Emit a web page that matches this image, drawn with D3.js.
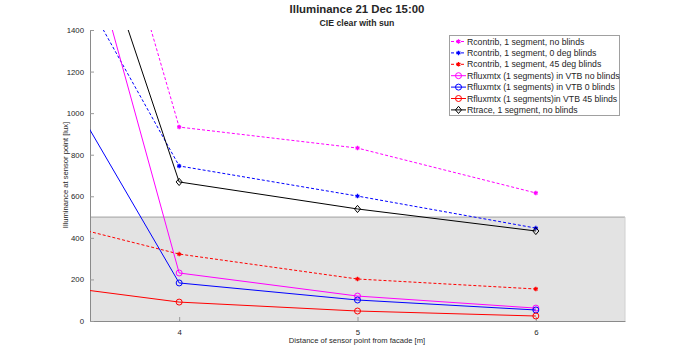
<!DOCTYPE html>
<html>
<head>
<meta charset="utf-8">
<script src="https://cdn.jsdelivr.net/npm/d3@7"></script>
<style>
  body { margin: 0; background: #fff; }
  svg text { font-family: "Liberation Sans", Arial, sans-serif; fill: #262626; }
</style>
</head>
<body>
<svg id="chart" width="690" height="361"></svg>
<script>
// distances from facade [m] (x=3 lies outside the visible axis, lines run off the left)
let distances = [3, 4, 5, 6]

let series_names = [
  "Rcontrib, 1 segment, no blinds",
  "Rcontrib, 1 segment, 0 deg blinds",
  "Rcontrib, 1 segment, 45 deg blinds",
  "Rfluxmtx (1 segments) in VTB no blinds",
  "Rfluxmtx (1 segments) in VTB 0 blinds",
  "Rfluxmtx (1 segments)in VTB 45 blinds",
  "Rtrace, 1 segment, no blinds"
]
let rcontrib_none = [3900, 933, 832, 616]
let rcontrib_0 = [2285, 746, 601, 447]
let rcontrib_45 = [538, 322, 202, 154]
let rfluxmtx_none = [3350, 231, 120, 62]
let rfluxmtx_0 = [1655, 183, 101, 53]
let rfluxmtx_45 = [202, 91, 48, 24]
let rtrace_none = [3227, 669, 539, 433]

let x_ticks = [4, 5, 6]
let y_ticks = [0, 200, 400, 600, 800, 1000, 1200, 1400]
let threshold = 500

let width = 690,
    height = 361,
    margins = {left: 90, right: 65, top: 30, bottom: 40};

let styles = [
  {color: "#ff00ff", dash: "3,2", marker: "star"},
  {color: "#0000ff", dash: "3,2", marker: "star"},
  {color: "#ff0000", dash: "3,2", marker: "star"},
  {color: "#ff00ff", dash: null, marker: "circle"},
  {color: "#0000ff", dash: null, marker: "circle"},
  {color: "#ff0000", dash: null, marker: "circle"},
  {color: "#000000", dash: null, marker: "diamond"}
]
let values = [rcontrib_none, rcontrib_0, rcontrib_45, rfluxmtx_none, rfluxmtx_0, rfluxmtx_45, rtrace_none]

let series = series_names.map((name, i) => ({
  name: name,
  style: styles[i],
  points: distances.map((d, j) => ({x: d, y: values[i][j]}))
}))

let scales = {
  x: d3.scaleLinear().domain([3.5, 6.5]).range([margins.left, width - margins.right]),
  y: d3.scaleLinear().domain([0, 1400]).range([height - margins.bottom, margins.top])
}

let svg = d3.select("#chart")

svg.append("defs").append("clipPath").attr("id", "plot_clip")
  .append("rect")
  .attr("x", margins.left)
  .attr("y", margins.top)
  .attr("width", width - margins.left - margins.right)
  .attr("height", height - margins.top - margins.bottom)

// grey band below the 500 lux target
svg.append("rect")
  .attr("x", scales.x(3.5))
  .attr("y", scales.y(threshold))
  .attr("width", scales.x(6.5) - scales.x(3.5))
  .attr("height", scales.y(0) - scales.y(threshold))
  .attr("fill", "#e3e3e3")
svg.append("line")
  .attr("x1", scales.x(3.5)).attr("x2", scales.x(6.5))
  .attr("y1", scales.y(threshold)).attr("y2", scales.y(threshold))
  .attr("stroke", "#a0a0a0")
svg.append("line")
  .attr("x1", scales.x(6.5)).attr("x2", scales.x(6.5))
  .attr("y1", scales.y(threshold)).attr("y2", scales.y(0))
  .attr("stroke", "#d0d0d0")

// axes
let x_axis = d3.axisBottom(scales.x).tickValues(x_ticks).tickFormat(d3.format("d"))
  .tickSizeInner(-4).tickSizeOuter(0).tickPadding(8)
let y_axis = d3.axisLeft(scales.y).tickValues(y_ticks).tickFormat(d3.format("d"))
  .tickSizeInner(-4).tickSizeOuter(0).tickPadding(6)

let gx = svg.append("g")
  .attr("transform", `translate(0, ${height - margins.bottom})`)
  .call(x_axis)
let gy = svg.append("g")
  .attr("transform", `translate(${margins.left}, 0)`)
  .call(y_axis)

for (let g of [gx, gy]) {
  g.select(".domain").attr("stroke", "#8a8a8a")
  g.selectAll(".tick line").attr("stroke", "#9a9a9a")
  g.selectAll(".tick text")
    .attr("font-size", "7.8px")
    .attr("font-family", "Liberation Sans, Arial, sans-serif")
    .attr("fill", "#262626")
}

svg.append("text")
  .text("Distance of sensor point from facade [m]")
  .attr("x", 357).attr("y", 343)
  .attr("text-anchor", "middle")
  .attr("font-size", "7.6px")
svg.append("text")
  .text("Illuminance at sensor point [lux]")
  .attr("transform", `translate(68, 175)rotate(-90)`)
  .attr("text-anchor", "middle")
  .attr("font-size", "7.6px")

svg.append("text")
  .text("Illuminance 21 Dec 15:00")
  .attr("x", 357).attr("y", 12.5)
  .attr("text-anchor", "middle")
  .attr("font-weight", "bold")
  .attr("font-size", "11.4px")
  .attr("fill", "#000")
svg.append("text")
  .text("CIE clear with sun")
  .attr("x", 357).attr("y", 26)
  .attr("text-anchor", "middle")
  .attr("font-weight", "bold")
  .attr("font-size", "8.7px")
  .attr("fill", "#000")

// lines and markers
let path_generator = d3.line()
  .x(d => scales.x(d.x))
  .y(d => scales.y(d.y))

let plot = svg.append("g").attr("clip-path", "url(#plot_clip)")

function draw_marker(g, style, cx, cy) {
  if (style.marker == "circle") {
    g.append("circle").attr("cx", cx).attr("cy", cy).attr("r", 3)
      .attr("fill", "none").attr("stroke", style.color).attr("stroke-width", 1)
  } else if (style.marker == "diamond") {
    g.append("path")
      .attr("d", `M${cx},${cy - 3.6}L${cx + 3},${cy}L${cx},${cy + 3.6}L${cx - 3},${cy}Z`)
      .attr("fill", "none").attr("stroke", style.color).attr("stroke-width", 1)
  } else {
    g.append("path")
      .attr("transform", `translate(${cx},${cy})`)
      .attr("d", d3.symbol(d3.symbolAsterisk, 14)())
      .attr("fill", "none").attr("stroke", style.color).attr("stroke-width", 1.3)
  }
}

series.forEach(s => {
  plot.append("path")
    .datum(s.points)
    .attr("d", path_generator)
    .attr("fill", "none")
    .attr("stroke", s.style.color)
    .attr("stroke-width", 1)
    .attr("stroke-dasharray", s.style.dash)
  s.points.filter(p => p.x >= 4).forEach(p => {
    draw_marker(plot, s.style, scales.x(p.x), scales.y(p.y))
  })
})

// legend
let legend = svg.append("g")
legend.append("rect")
  .attr("x", 449.5).attr("y", 35.5)
  .attr("width", 170).attr("height", 80)
  .attr("fill", "#fff")
  .attr("stroke", "#a0a0a0")
series.forEach((s, i) => {
  let ly = 41.5 + i * 11.4
  legend.append("line")
    .attr("x1", 451).attr("x2", 466)
    .attr("y1", ly).attr("y2", ly)
    .attr("stroke", s.style.color)
    .attr("stroke-dasharray", s.style.dash)
  draw_marker(legend, s.style, 458.5, ly)
  legend.append("text")
    .text(s.name)
    .attr("x", 467).attr("y", ly + 3)
    .attr("font-size", "8.7px")
    .attr("fill", "#000")
})
</script>
</body>
</html>
